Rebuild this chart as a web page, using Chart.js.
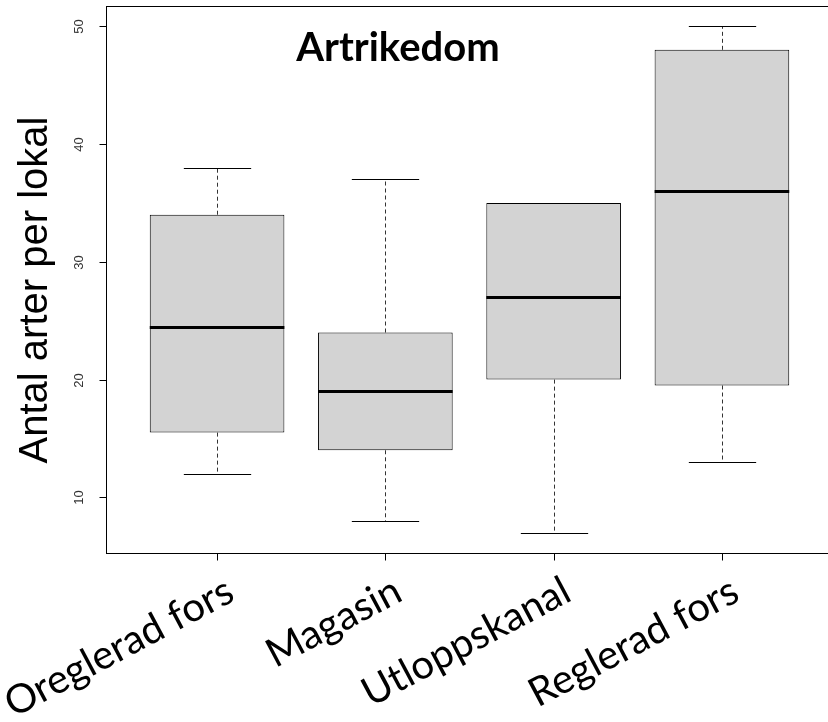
<!DOCTYPE html>
<html>
<head>
<meta charset="utf-8">
<script src="https://cdn.jsdelivr.net/npm/chart.js@4/dist/chart.umd.min.js"></script>
<style>
  html, body { margin: 0; padding: 0; background: #fff; overflow: hidden; }
  #wrap { width: 840px; height: 722px; }
</style>
</head>
<body>
<div id="wrap"><canvas id="c" width="840" height="722"></canvas></div>
<script>
// Species richness per site type (five-number summaries)
const sites = ['Oreglerad fors', 'Magasin', 'Utloppskanal', 'Reglerad fors'];
const whiskerLow  = [12,   8,  7, 13];
const quartile1   = [15.5, 14, 20, 19.5];
const medians     = [24.5, 19, 27, 36];
const quartile3   = [34,   24, 35, 48];
const whiskerHigh = [38,   37, 35, 50];
const yTicks = [10, 20, 30, 40, 50];
const chartTitle = 'Artrikedom';
const yTitle = 'Antal arter per lokal';

const positions = sites.map((_, i) => i + 1);

// whiskers, caps, medians, frame and all text, drawn from the chart scales
const boxplotDecor = {
  id: 'boxplotDecor',
  beforeDatasetsDraw(chart) {
    const { ctx, scales: { x, y } } = chart;
    const meta = chart.getDatasetMeta(0);
    ctx.save();
    ctx.lineWidth = 1;
    positions.forEach((p, i) => {
      const bar = meta.data[i];
      const half = bar.width / 2;
      const cx = Math.round(x.getPixelForValue(p)) + 0.5;
      const yLo = y.getPixelForValue(whiskerLow[i]);
      const yQ1 = y.getPixelForValue(quartile1[i]);
      const yQ3 = y.getPixelForValue(quartile3[i]);
      const yHi = y.getPixelForValue(whiskerHigh[i]);
      // dashed whiskers
      ctx.strokeStyle = '#333';
      ctx.setLineDash([4, 3]);
      ctx.beginPath();
      ctx.moveTo(cx, yQ1); ctx.lineTo(cx, yLo);
      ctx.moveTo(cx, yQ3); ctx.lineTo(cx, yHi);
      ctx.stroke();
      // caps (half the box width)
      ctx.strokeStyle = '#000';
      ctx.setLineDash([]);
      ctx.beginPath();
      const yl = Math.round(yLo) + 0.5, yh = Math.round(yHi) + 0.5;
      ctx.moveTo(cx - half / 2, yl); ctx.lineTo(cx + half / 2, yl);
      ctx.moveTo(cx - half / 2, yh); ctx.lineTo(cx + half / 2, yh);
      ctx.stroke();
    });
    ctx.restore();
  },
  afterDatasetsDraw(chart) {
    const { ctx, chartArea: a, scales: { x, y } } = chart;
    const meta = chart.getDatasetMeta(0);
    ctx.save();

    // medians
    ctx.strokeStyle = '#000';
    ctx.lineWidth = 3;
    positions.forEach((p, i) => {
      const bar = meta.data[i];
      const ym = Math.round(y.getPixelForValue(medians[i])) + 0.5;
      ctx.beginPath();
      ctx.moveTo(bar.x - bar.width / 2, ym);
      ctx.lineTo(bar.x + bar.width / 2, ym);
      ctx.stroke();
    });

    // plot frame
    ctx.lineWidth = 1;
    const L = Math.round(a.left) + 0.5, R = Math.round(a.right) + 0.5;
    const T = Math.round(a.top) + 0.5, B = Math.round(a.bottom) + 0.5;
    ctx.strokeRect(L, T, R - L, B - T);

    // y ticks and rotated labels
    ctx.fillStyle = '#333';
    ctx.font = '13px "Liberation Sans", Arial, sans-serif';
    ctx.textAlign = 'center';
    ctx.textBaseline = 'alphabetic';
    yTicks.forEach(v => {
      const py = Math.round(y.getPixelForValue(v)) + 0.5;
      ctx.beginPath();
      ctx.moveTo(L - 7, py); ctx.lineTo(L, py);
      ctx.stroke();
      ctx.save();
      ctx.translate(L - 24, py);
      ctx.rotate(-Math.PI / 2);
      ctx.fillText(String(v), 0, 0);
      ctx.restore();
    });

    // x ticks and slanted category labels
    ctx.fillStyle = '#000';
    ctx.font = '40px Lato, "Open Sans", sans-serif';
    ctx.textAlign = 'right';
    ctx.textBaseline = 'alphabetic';
    positions.forEach((p, i) => {
      const px = Math.round(x.getPixelForValue(p)) + 0.5;
      ctx.beginPath();
      ctx.moveTo(px, B); ctx.lineTo(px, B + 7);
      ctx.stroke();
      ctx.save();
      ctx.translate(px + 19, B + 46);
      ctx.rotate(-28 * Math.PI / 180);
      ctx.fillText(sites[i], 0, 0);
      ctx.restore();
    });

    // y axis title
    ctx.font = '40px "Liberation Sans", Arial, sans-serif';
    ctx.textAlign = 'center';
    ctx.textBaseline = 'alphabetic';
    ctx.save();
    ctx.translate(47, 290);
    ctx.rotate(-Math.PI / 2);
    ctx.fillText(yTitle, 0, 0);
    ctx.restore();

    // chart title inside the plot
    ctx.font = 'bold 40px Lato, "Open Sans", sans-serif';
    ctx.textAlign = 'center';
    ctx.fillText(chartTitle, 398, 61);

    ctx.restore();
  }
};

new Chart(document.getElementById('c'), {
  type: 'bar',
  data: {
    datasets: [{
      data: positions.map((p, i) => ({ x: p, y: [quartile1[i], quartile3[i]] })),
      backgroundColor: '#d3d3d3',
      borderColor: '#000',
      borderWidth: 1,
      borderSkipped: false,
      categoryPercentage: 1,
      barPercentage: 0.8
    }]
  },
  options: {
    responsive: false,
    animation: false,
    devicePixelRatio: 1,
    layout: { padding: { left: 106, top: 6, right: 7, bottom: 169 } },
    plugins: { legend: { display: false }, tooltip: { enabled: false } },
    scales: {
      x: {
        type: 'linear', min: 0.34, max: 4.66, offset: false, display: false,
        ticks: { stepSize: 1, includeBounds: false }
      },
      y: { type: 'linear', min: 5.28, max: 51.72, display: false }
    }
  },
  plugins: [boxplotDecor]
});
</script>
</body>
</html>
